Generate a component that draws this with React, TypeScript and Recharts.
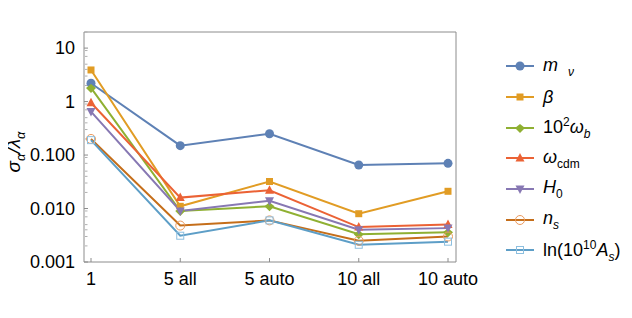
import { Line, LineChart, XAxis, YAxis } from "recharts"

const categories = ["1", "5 all", "5 auto", "10 all", "10 auto"]

const mNu = [2.2, 0.15, 0.25, 0.065, 0.07]
const beta = [3.9, 0.011, 0.032, 0.008, 0.021]
const omegaB = [1.8, 0.009, 0.011, 0.0033, 0.0036]
const omegaCdm = [0.95, 0.016, 0.022, 0.0045, 0.005]
const hubble = [0.65, 0.009, 0.014, 0.004, 0.0043]
const nS = [0.2, 0.0048, 0.006, 0.0025, 0.003]
const lnAs = [0.19, 0.0031, 0.006, 0.0021, 0.0024]

const majorTicks = [0.001, 0.01, 0.1, 1, 10]
const minorTicks = [
  0.002, 0.003, 0.004, 0.005, 0.006, 0.007, 0.008, 0.009,
  0.02, 0.03, 0.04, 0.05, 0.06, 0.07, 0.08, 0.09,
  0.2, 0.3, 0.4, 0.5, 0.6, 0.7, 0.8, 0.9,
  2, 3, 4, 5, 6, 7, 8, 9, 20,
]
const tickLabels: Record<number, string> = {
  0.001: "0.001",
  0.01: "0.010",
  0.1: "0.100",
  1: "1",
  10: "10",
}

type Marker = "circle" | "square" | "diamond" | "up" | "down" | "openCircle" | "openSquare"

interface SeriesDef {
  key: string
  values: number[]
  color: string
  markerColor: string
  marker: Marker
  label: React.ReactNode
}

const sub = { fontSize: 12 }

const series: SeriesDef[] = [
  {
    key: "mnu", values: mNu, color: "#5E81B5", markerColor: "#5E81B5", marker: "circle",
    label: <span><i>m</i>&nbsp;&nbsp;<sub style={sub}><i>ν</i></sub></span>,
  },
  {
    key: "beta", values: beta, color: "#E19C24", markerColor: "#E19C24", marker: "square",
    label: <i>β</i>,
  },
  {
    key: "ob", values: omegaB, color: "#8FB032", markerColor: "#8FB032", marker: "diamond",
    label: <span>10<sup style={sub}>2</sup><i>ω</i><sub style={sub}><i>b</i></sub></span>,
  },
  {
    key: "ocdm", values: omegaCdm, color: "#EB6235", markerColor: "#EB6235", marker: "up",
    label: <span><i>ω</i><sub style={sub}>cdm</sub></span>,
  },
  {
    key: "h0", values: hubble, color: "#8778B3", markerColor: "#8778B3", marker: "down",
    label: <span><i>H</i><sub style={sub}>0</sub></span>,
  },
  {
    key: "ns", values: nS, color: "#C56E1A", markerColor: "#EB9A5E", marker: "openCircle",
    label: <span><i>n</i><sub style={sub}><i>s</i></sub></span>,
  },
  {
    key: "as", values: lnAs, color: "#5D9EC7", markerColor: "#8DBFDF", marker: "openSquare",
    label: <span>ln(10<sup style={sub}>10</sup><i>A</i><sub style={sub}><i>s</i></sub>)</span>,
  },
]

const chartData = categories.map((name, i) => {
  const row: Record<string, string | number> = { name }
  series.forEach((s) => {
    row[s.key] = s.values[i]
  })
  return row
})

function drawMarker(marker: Marker, color: string, cx: number, cy: number, key?: string) {
  switch (marker) {
    case "circle":
      return <circle key={key} cx={cx} cy={cy} r={4.5} fill={color} />
    case "square":
      return <rect key={key} x={cx - 3.5} y={cy - 3.5} width={7} height={7} fill={color} />
    case "diamond":
      return <polygon key={key} points={`${cx},${cy + 5} ${cx + 5},${cy} ${cx},${cy - 4} ${cx - 5},${cy}`} fill={color} />
    case "up":
      return <polygon key={key} points={`${cx},${cy - 5} ${cx + 4.5},${cy + 3.5} ${cx - 4.5},${cy + 3.5}`} fill={color} />
    case "down":
      return <polygon key={key} points={`${cx},${cy + 5} ${cx + 4.5},${cy - 3.5} ${cx - 4.5},${cy - 3.5}`} fill={color} />
    case "openCircle":
      return <circle key={key} cx={cx} cy={cy} r={4.5} fill="none" stroke={color} strokeWidth={1} />
    case "openSquare":
      return <rect key={key} x={cx - 3.5} y={cy - 3.5} width={7} height={7} fill="none" stroke={color} strokeWidth={1} />
  }
}

const font = "'Liberation Sans', Arial, sans-serif"
const frame = "#8c8c8c"

export default function App() {
  return (
    <div style={{ position: "relative", width: 616, height: 302, fontFamily: font }}>
      <LineChart width={616} height={302} data={chartData} margin={{ top: 24, right: 168, left: 0, bottom: 0 }}>
        <XAxis
          dataKey="name"
          type="category"
          height={48}
          padding={{ left: 7, right: 8 }}
          stroke={frame}
          tickLine={false}
          tickMargin={4}
          tick={{ fill: "#000", fontSize: 18, fontFamily: font }}
          interval={0}
        />
        <XAxis
          xAxisId="ticks"
          dataKey="name"
          type="category"
          mirror
          height={1}
          padding={{ left: 7, right: 8 }}
          stroke={frame}
          axisLine={false}
          tickSize={4}
          tickFormatter={() => ""}
          interval={0}
        />
        <XAxis
          xAxisId="top"
          orientation="top"
          dataKey="name"
          mirror
          height={1}
          stroke={frame}
          tick={false}
          tickLine={false}
        />
        <YAxis
          scale="log"
          domain={[0.001, 20]}
          allowDataOverflow
          ticks={majorTicks}
          width={76}
          stroke={frame}
          tickLine={false}
          tickMargin={3}
          tickFormatter={(v: number) => tickLabels[v] ?? ""}
          tick={{ fill: "#000", fontSize: 18, fontFamily: font }}
        />
        <YAxis
          yAxisId="major"
          scale="log"
          domain={[0.001, 20]}
          allowDataOverflow
          ticks={majorTicks}
          mirror
          width={1}
          stroke={frame}
          axisLine={false}
          tickSize={4}
          tickFormatter={() => ""}
        />
        <YAxis
          yAxisId="minor"
          scale="log"
          domain={[0.001, 20]}
          allowDataOverflow
          ticks={minorTicks}
          mirror
          width={1}
          stroke="#b0b0b0"
          axisLine={false}
          tickSize={2.5}
          tickFormatter={() => ""}
        />
        <YAxis
          yAxisId="right"
          orientation="right"
          scale="log"
          domain={[0.001, 20]}
          mirror
          width={1}
          stroke={frame}
          tick={false}
          tickLine={false}
        />
        {series.map((s) => (
          <Line
            key={s.key}
            dataKey={s.key}
            stroke={s.color}
            strokeWidth={2}
            isAnimationActive={false}
            dot={(p: any) => drawMarker(s.marker, s.markerColor, p.cx, p.cy, `${s.key}-${p.index}`)}
            activeDot={false}
          />
        ))}
      </LineChart>
      <div
        style={{
          position: "absolute",
          left: -44,
          top: 132,
          width: 100,
          height: 24,
          lineHeight: "24px",
          textAlign: "center",
          transform: "rotate(-90deg)",
          fontSize: 19,
          fontStyle: "italic",
          color: "#000",
          whiteSpace: "nowrap",
        }}
      >
        σ<sub style={{ fontSize: 13 }}>α</sub>/λ<sub style={{ fontSize: 13 }}>α</sub>
      </div>
      <div style={{ position: "absolute", left: 498, top: 43 }}>
        {series.map((s) => (
          <div key={s.key} style={{ display: "flex", alignItems: "center", height: 30.7 }}>
            <svg width={28} height={14} style={{ marginRight: 9 }}>
              <line x1={0} y1={7} x2={28} y2={7} stroke={s.color} strokeWidth={2} />
              {drawMarker(s.marker, s.markerColor, 14, 7)}
            </svg>
            <span style={{ fontSize: 18, color: "#000", whiteSpace: "nowrap" }}>{s.label}</span>
          </div>
        ))}
      </div>
    </div>
  )
}
